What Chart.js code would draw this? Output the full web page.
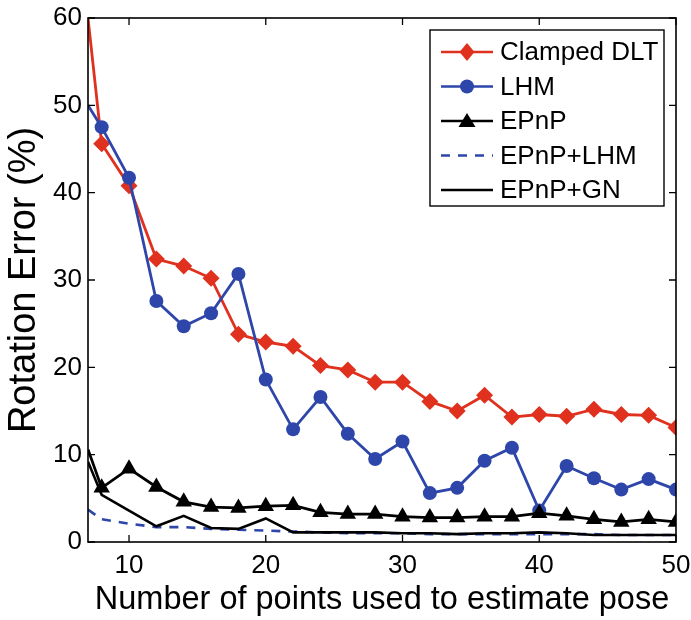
<!DOCTYPE html>
<html>
<head>
<meta charset="utf-8">
<script src="https://cdn.jsdelivr.net/npm/chart.js@4.4.0/dist/chart.umd.min.js"></script>
<style>
  html, body { margin: 0; padding: 0; background: #fff; }
  canvas { display: block; }
</style>
</head>
<body>
<canvas id="rotChart" width="691" height="620"></canvas>
<script>
// number of points (x axis)
const nPoints = [7, 8, 10, 12, 14, 16, 18, 20, 22, 24, 26, 28, 30, 32, 34, 36, 38, 40, 42, 44, 46, 48, 50];

// rotation error (%) per method
const clampedDLT = [60, 45.6, 40.8, 32.4, 31.6, 30.2, 23.8, 22.9, 22.4, 20.2, 19.7, 18.3, 18.3, 16.1, 15.0, 16.8, 14.3, 14.6, 14.4, 15.2, 14.6, 14.5, 13.1];
const lhm = [50, 47.5, 41.7, 27.6, 24.7, 26.2, 30.7, 18.6, 12.9, 16.6, 12.4, 9.5, 11.5, 5.6, 6.2, 9.3, 10.8, 3.6, 8.7, 7.3, 6.0, 7.2, 6.0];
const epnp = [10.6, 6.2, 8.4, 6.3, 4.6, 4.0, 3.9, 4.1, 4.2, 3.4, 3.2, 3.2, 2.9, 2.8, 2.8, 2.9, 2.9, 3.3, 3.0, 2.6, 2.3, 2.6, 2.3];
const epnpLhm = [3.7, 2.6, 2.1, 1.7, 1.7, 1.5, 1.4, 1.3, 1.2, 1.1, 1.0, 1.0, 1.0, 0.9, 0.9, 0.9, 0.9, 0.9, 0.9, 0.9, 0.8, 0.8, 0.8];
const epnpGn = [9.2, 5.4, 3.6, 1.8, 3.0, 1.6, 1.5, 2.7, 1.1, 1.1, 1.1, 1.1, 1.0, 1.0, 0.9, 1.0, 1.0, 1.1, 1.0, 0.8, 0.8, 0.8, 0.8];

// tick labels
const xTicks = [10, 20, 30, 40, 50];
const yTicks = [0, 10, 20, 30, 40, 50, 60];

const RED = '#e0301e';
const BLUE = '#2e46aa';
const FONT = '"Liberation Sans", Arial, Helvetica, sans-serif';

const toXY = arr => arr.map((v, i) => ({ x: nPoints[i], y: v }));
// first sample sits on the left axis edge, drawn without a marker
const markerRadius = r => nPoints.map((n, i) => (i === 0 ? 0 : r));

const legendItems = [
    { label: 'Clamped DLT', color: RED, marker: 'diamond', dash: [] },
    { label: 'LHM', color: BLUE, marker: 'circle', dash: [] },
    { label: 'EPnP', color: '#000', marker: 'triangle', dash: [] },
    { label: 'EPnP+LHM', color: BLUE, marker: null, dash: [9, 8] },
    { label: 'EPnP+GN', color: '#000', marker: null, dash: [] }
];

function drawMarker(ctx, type, x, y, color) {
    ctx.save();
    ctx.fillStyle = color;
    ctx.beginPath();
    if (type === 'diamond') {
        ctx.moveTo(x, y - 9); ctx.lineTo(x + 7.5, y); ctx.lineTo(x, y + 9); ctx.lineTo(x - 7.5, y);
    } else if (type === 'circle') {
        ctx.arc(x, y, 7, 0, Math.PI * 2);
    } else if (type === 'triangle') {
        ctx.moveTo(x, y - 8); ctx.lineTo(x + 8.5, y + 6); ctx.lineTo(x - 8.5, y + 6);
    }
    ctx.closePath();
    ctx.fill();
    ctx.restore();
}

// frame with inward ticks plus the boxed legend
const framePlugin = {
    id: 'frame',
    afterDraw(chart) {
        const { ctx, chartArea: a, scales } = chart;
        ctx.save();
        ctx.strokeStyle = '#000';
        ctx.lineWidth = 1.6;
        ctx.strokeRect(a.left, a.top, a.right - a.left, a.bottom - a.top);
        ctx.lineWidth = 1.3;
        ctx.beginPath();
        xTicks.forEach(v => {
            const px = scales.x.getPixelForValue(v);
            ctx.moveTo(px, a.bottom); ctx.lineTo(px, a.bottom - 7);
            ctx.moveTo(px, a.top); ctx.lineTo(px, a.top + 7);
        });
        yTicks.forEach(v => {
            const py = scales.y.getPixelForValue(v);
            ctx.moveTo(a.left, py); ctx.lineTo(a.left + 7, py);
            ctx.moveTo(a.right, py); ctx.lineTo(a.right - 7, py);
        });
        ctx.stroke();

        // legend
        const bx = 430, by = 30, bw = 234, bh = 176;
        ctx.fillStyle = '#fff';
        ctx.fillRect(bx, by, bw, bh);
        ctx.lineWidth = 1.4;
        ctx.strokeRect(bx, by, bw, bh);
        ctx.font = '26px ' + FONT;
        ctx.textBaseline = 'middle';
        ctx.textAlign = 'left';
        legendItems.forEach((it, i) => {
            const y = 52 + i * 34.5;
            ctx.strokeStyle = it.color;
            ctx.lineWidth = 2.6;
            ctx.setLineDash(it.dash);
            ctx.beginPath();
            ctx.moveTo(441, y); ctx.lineTo(493, y);
            ctx.stroke();
            ctx.setLineDash([]);
            if (it.marker) drawMarker(ctx, it.marker, 467, y, it.color);
            ctx.fillStyle = '#000';
            ctx.fillText(it.label, 500, y + 1);
        });
        ctx.restore();
    }
};

new Chart(document.getElementById('rotChart'), {
    type: 'line',
    data: {
        datasets: [
            {
                label: 'Clamped DLT', data: toXY(clampedDLT), order: 5,
                borderColor: RED, backgroundColor: RED, borderWidth: 2.8,
                pointStyle: 'rectRot', pointRadius: markerRadius(8.5), pointBorderWidth: 0
            },
            {
                label: 'LHM', data: toXY(lhm), order: 4,
                borderColor: BLUE, backgroundColor: BLUE, borderWidth: 2.8,
                pointStyle: 'circle', pointRadius: markerRadius(7), pointBorderWidth: 0
            },
            {
                label: 'EPnP', data: toXY(epnp), order: 3,
                borderColor: '#000', backgroundColor: '#000', borderWidth: 2.8,
                pointStyle: 'triangle', pointRadius: markerRadius(9.5), pointBorderWidth: 0
            },
            {
                label: 'EPnP+LHM', data: toXY(epnpLhm), order: 2,
                borderColor: BLUE, borderWidth: 2.6, borderDash: [9, 8],
                pointRadius: 0
            },
            {
                label: 'EPnP+GN', data: toXY(epnpGn), order: 1,
                borderColor: '#000', borderWidth: 2.6,
                pointRadius: 0
            }
        ]
    },
    options: {
        responsive: false,
        animation: false,
        layout: { padding: { top: 18, right: 15, left: 0, bottom: 0 } },
        plugins: { legend: { display: false }, tooltip: { enabled: false } },
        elements: { line: { tension: 0 } },
        scales: {
            x: {
                type: 'linear', min: 7, max: 50,
                afterBuildTicks: s => { s.ticks = xTicks.map(v => ({ value: v })); },
                afterFit: s => { s.height = 78; s.paddingLeft = 0; s.paddingRight = 0; },
                grid: { display: false, drawTicks: false },
                border: { display: false },
                ticks: { color: '#000', font: { family: FONT, size: 26 }, padding: 8, maxRotation: 0, autoSkip: false },
                title: {
                    display: true, text: 'Number of points used to estimate pose', color: '#000',
                    font: { family: FONT, size: 32.5 }, padding: { top: 0, bottom: 0 }
                }
            },
            y: {
                min: 0, max: 60,
                afterBuildTicks: s => { s.ticks = yTicks.map(v => ({ value: v })); },
                afterFit: s => { s.width = 88; s.paddingTop = 0; s.paddingBottom = 0; },
                grid: { display: false, drawTicks: false },
                border: { display: false },
                ticks: { color: '#000', font: { family: FONT, size: 26 }, padding: 6 },
                title: {
                    display: true, text: 'Rotation Error (%)', color: '#000',
                    font: { family: FONT, size: 38 }, padding: { top: 2, bottom: 0 }
                }
            }
        }
    },
    plugins: [framePlugin]
});
</script>
</body>
</html>
